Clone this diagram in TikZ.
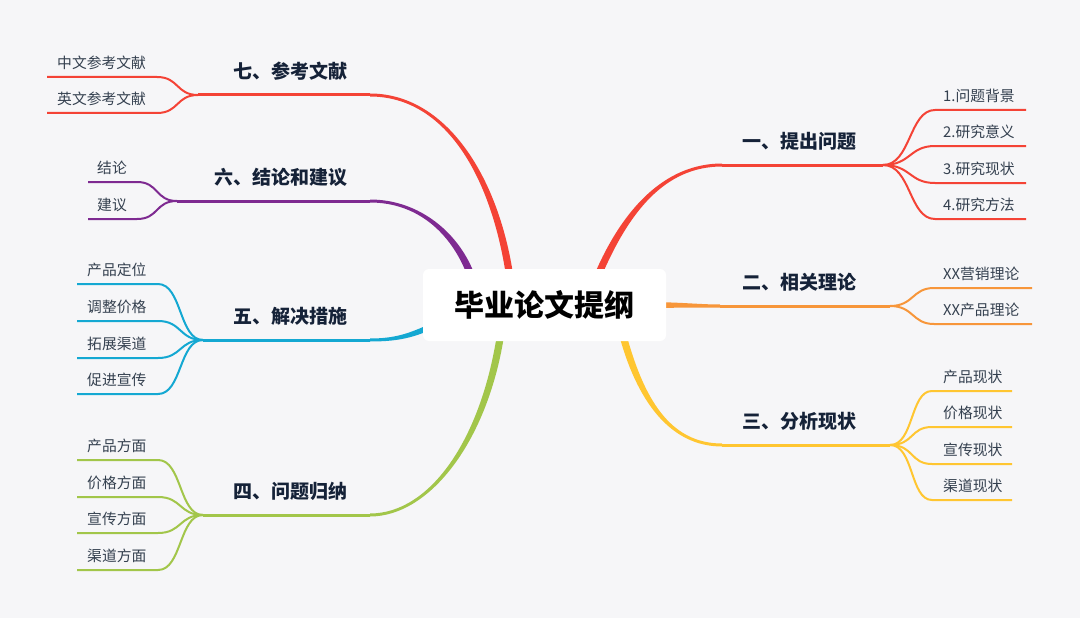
\documentclass[tikz,border=0pt]{standalone}
\usepackage{fontspec}
\setmainfont{Noto Sans CJK SC}
\usetikzlibrary{calc}
\definecolor{bg}{HTML}{F6F6F8}
\definecolor{cred}{HTML}{F44336}
\definecolor{corange}{HTML}{F7963A}
\definecolor{cyellow}{HTML}{FFC631}
\definecolor{cgreen}{HTML}{A2C64A}
\definecolor{ccyan}{HTML}{14A8D2}
\definecolor{cpurple}{HTML}{7E2A91}
\definecolor{leafc}{HTML}{34404F}
\definecolor{lblc}{HTML}{152238}
% tapered trunk: colour, P0 P1 P2 P3 (thick end first), half widths
\newcommand{\mmtrunk}[7]{%
  \fill[#1] ($(#2)!#6!90:(#3)$) .. controls ($(#3)!#6!-90:(#2)$) and ($(#4)!#7!90:(#5)$) .. ($(#5)!#7!-90:(#4)$)
  -- ($(#5)!#7!90:(#4)$) .. controls ($(#4)!#7!-90:(#5)$) and ($(#3)!#6!90:(#2)$) .. ($(#2)!#6!-90:(#3)$) -- cycle;}
\begin{document}
\begin{tikzpicture}[x=1pt,y=-1pt,
  subline/.style={line width=2pt},
  mainline/.style={line width=3pt},
  leaf/.style={font=\fontsize{14.8}{17}\selectfont, text=leafc, inner sep=0pt, anchor=west},
  lbl/.style={font=\fontsize{19}{22}\selectfont\bfseries, text=lblc, inner sep=0pt}]
\fill[bg] (0,0) rectangle (1080,618);
\useasboundingbox (0,0) rectangle (1080,618);

% trunk control points
\coordinate (t1a) at (596,280); \coordinate (t1b) at (625,210); \coordinate (t1c) at (665,165); \coordinate (t1d) at (722,165);
\coordinate (t2a) at (655,305); \coordinate (t2b) at (680,305); \coordinate (t2c) at (700,306); \coordinate (t2d) at (720,306);
\coordinate (t3a) at (622,332); \coordinate (t3b) at (640,400); \coordinate (t3c) at (670,445); \coordinate (t3d) at (722,445);
\coordinate (t4a) at (501,332); \coordinate (t4b) at (485,440); \coordinate (t4c) at (430,515); \coordinate (t4d) at (370,515);
\coordinate (t5a) at (430,327); \coordinate (t5b) at (410,336); \coordinate (t5c) at (395,340); \coordinate (t5d) at (370,340);
\coordinate (t6a) at (472,278); \coordinate (t6b) at (457,235); \coordinate (t6c) at (420,201); \coordinate (t6d) at (370,201);
\coordinate (t7a) at (510,278); \coordinate (t7b) at (495,175); \coordinate (t7c) at (445,95);  \coordinate (t7d) at (370,95);

% junctions
\coordinate (j1) at (883,165);
\coordinate (j2) at (890,306);
\coordinate (j3) at (890,445);
\coordinate (j4) at (203,515);
\coordinate (j5) at (203,340);
\coordinate (j6) at (177,201);
\coordinate (j7) at (198,95);

% trunks
\mmtrunk{cred}{t1a}{t1b}{t1c}{t1d}{3.6pt}{1.5pt}
\mmtrunk{corange}{t2a}{t2b}{t2c}{t2d}{2.8pt}{1.5pt}
\mmtrunk{cyellow}{t3a}{t3b}{t3c}{t3d}{3.6pt}{1.5pt}
\mmtrunk{cgreen}{t4a}{t4b}{t4c}{t4d}{3.6pt}{1.5pt}
\mmtrunk{ccyan}{t5a}{t5b}{t5c}{t5d}{2.8pt}{1.5pt}
\mmtrunk{cpurple}{t6a}{t6b}{t6c}{t6d}{3.6pt}{1.5pt}
\mmtrunk{cred}{t7a}{t7b}{t7c}{t7d}{3.6pt}{1.5pt}

% main horizontal lines
\draw[mainline,cred] (t1d) -- (j1);
\draw[mainline,corange] (t2d) -- (j2);
\draw[mainline,cyellow] (t3d) -- (j3);
\draw[mainline,cgreen] (t4d) -- (j4);
\draw[mainline,ccyan] (t5d) -- (j5);
\draw[mainline,cpurple] (t6d) -- (j6);
\draw[mainline,cred] (t7d) -- (j7);

% branch labels
\node[lbl,anchor=west] (b1) at (742,141) {一、提出问题};
\node[lbl,anchor=west] (b2) at (742,282) {二、相关理论};
\node[lbl,anchor=west] (b3) at (742,421) {三、分析现状};
\node[lbl,anchor=east] (b4) at (348,491) {四、问题归纳};
\node[lbl,anchor=east] (b5) at (348,316) {五、解决措施};
\node[lbl,anchor=east] (b6) at (348,177) {六、结论和建议};
\node[lbl,anchor=east] (b7) at (348,71) {七、参考文献};

% right sub branches
\foreach \yy/\lab [count=\i] in {110/1.问题背景,146/2.研究意义,183/3.研究现状,219/4.研究方法}{
  \node[leaf] (a\i) at (943,\yy-14) {\lab};
  \coordinate (as\i) at (935,\yy); \coordinate (ae\i) at (1026,\yy);
  \draw[subline,cred] (j1) .. controls +(28,0) and +(-26,0) .. (as\i) -- (ae\i);
}
\foreach \yy/\lab [count=\i] in {288/XX营销理论,324/XX产品理论}{
  \node[leaf] (b\i) at (943,\yy-14) {\lab};
  \coordinate (bs\i) at (934,\yy); \coordinate (be\i) at (1032,\yy);
  \draw[subline,corange] (j2) .. controls +(24,0) and +(-22,0) .. (bs\i) -- (be\i);
}
\foreach \yy/\lab [count=\i] in {391/产品现状,427/价格现状,464/宣传现状,500/渠道现状}{
  \node[leaf] (c\i) at (943,\yy-14) {\lab};
  \coordinate (cs\i) at (932,\yy); \coordinate (ce\i) at (1012,\yy);
  \draw[subline,cyellow] (j3) .. controls +(24,0) and +(-22,0) .. (cs\i) -- (ce\i);
}
% left sub branches
\foreach \yy/\lab [count=\i] in {460/产品方面,497/价格方面,533/宣传方面,570/渠道方面}{
  \node[leaf] (d\i) at (87,\yy-14) {\lab};
  \coordinate (ds\i) at (158,\yy); \coordinate (de\i) at (77,\yy);
  \draw[subline,cgreen] (j4) .. controls +(-24,0) and +(24,0) .. (ds\i) -- (de\i);
}
\foreach \yy/\lab [count=\i] in {284/产品定位,321/调整价格,358/拓展渠道,394/促进宣传}{
  \node[leaf] (e\i) at (87,\yy-14) {\lab};
  \coordinate (es\i) at (158,\yy); \coordinate (ee\i) at (77,\yy);
  \draw[subline,ccyan] (j5) .. controls +(-24,0) and +(24,0) .. (es\i) -- (ee\i);
}
\foreach \yy/\lab [count=\i] in {182/结论,219/建议}{
  \node[leaf] (f\i) at (97,\yy-14) {\lab};
  \coordinate (fs\i) at (137,\yy); \coordinate (fe\i) at (88,\yy);
  \draw[subline,cpurple] (j6) .. controls +(-22,0) and +(22,0) .. (fs\i) -- (fe\i);
}
\foreach \yy/\lab [count=\i] in {77/中文参考文献,113/英文参考文献}{
  \node[leaf] (g\i) at (57,\yy-14) {\lab};
  \coordinate (gs\i) at (157,\yy); \coordinate (ge\i) at (47,\yy);
  \draw[subline,cred] (j7) .. controls +(-22,0) and +(22,0) .. (gs\i) -- (ge\i);
}

% central node
\node[fill=white, rounded corners=6pt, minimum width=243pt, minimum height=72pt, inner sep=0pt,
      font=\fontsize{30}{34}\selectfont\bfseries, text=black] (root) at (544.5,305) {毕业论文提纲};
\end{tikzpicture}
\end{document}
